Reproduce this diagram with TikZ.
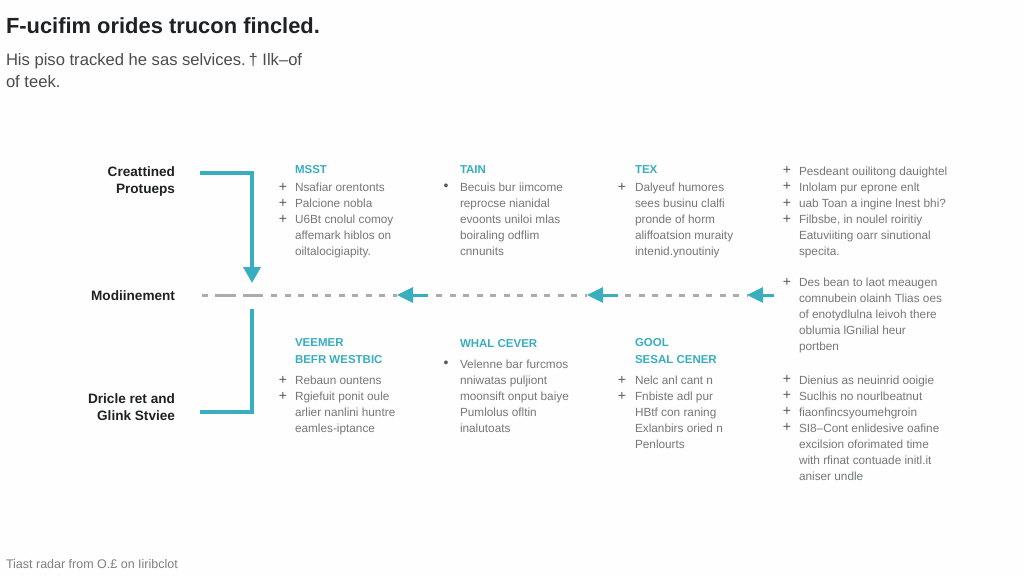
\documentclass[tikz,border=0pt]{standalone}
\usepackage{fontspec}
\setmainfont{Liberation Sans}
\usetikzlibrary{arrows.meta}
\definecolor{teal1}{HTML}{38AEBE}
\definecolor{dashgray}{HTML}{A9ADAE}
\definecolor{bodygray}{HTML}{74787A}
\definecolor{darktx}{HTML}{1E2224}
\tikzset{
  x=1pt,y=-1pt,
  every node/.style={inner sep=0pt,outer sep=0pt},
  titletx/.style={anchor=base west,text=darktx,font=\fontsize{21.9}{24}\selectfont\bfseries},
  subtx/.style={anchor=base west,text=black!70,align=left,font=\fontsize{16.6}{22}\selectfont},
  sidetx/.style={anchor=base east,text=darktx,align=right,font=\fontsize{13.6}{16.5}\selectfont\bfseries},
  headtx/.style={anchor=base west,text=teal1,align=left,font=\fontsize{11.5}{17}\selectfont\bfseries},
  bodytx/.style={anchor=base west,text=bodygray,align=left,font=\fontsize{11.8}{16}\selectfont},
  marktx/.style={anchor=center,text=black!65,font=\fontsize{14}{14}\selectfont},
  conn/.style={draw=teal1,line width=3.6pt},
  connarrow/.style={conn,-{Triangle[length=16pt,width=17pt]}},
  gapline/.style={draw=dashgray,line width=3pt},
  dotline/.style={gapline,dash pattern=on 6pt off 7.5pt},
  headarrow/.style={draw=teal1,line width=3pt,-{Triangle[length=16pt,width=15pt]}}
}
\newcommand{\mk}[3]{\node[marktx] (#1) at (#2,#3) {+};}
\newcommand{\dt}[3]{\node[marktx] (#1) at (#2,#3) {\textbullet};}
\begin{document}
\begin{tikzpicture}
\useasboundingbox[fill=white!99!gray] (0,0) rectangle (1024,576);
\node[titletx] (title) at (6,33) {F-ucifim orides trucon fincled.};
\node[subtx] (sub) at (6,87) {His piso tracked he sas selvices.\,† Ilk--of\\of teek.};

% side labels: positions give the baseline of the last line
\node[sidetx] (s1) at (175,193) {Creattined\\Protueps};
\node[sidetx] (s2) at (175,300) {Modiinement};
\node[sidetx] (s3) at (175,420) {Dricle ret and\\Glink Stviee};

% connectors
\coordinate (b1) at (200,173);
\coordinate (m1) at (252,283);
\coordinate (b3) at (200,412);
\coordinate (m3) at (252,309);
\draw[connarrow] (b1) -| (m1);
\draw[conn] (b3) -| (m3);

\coordinate (d0) at (202,295);
\coordinate (d1) at (208,295);
\coordinate (d2) at (215,295);
\coordinate (d3) at (236,295);
\coordinate (d4) at (243,295);
\coordinate (d5) at (263,295);
\coordinate (d6) at (271,295);
\coordinate (d7) at (397,295);
\coordinate (d8) at (428,295);
\coordinate (d9) at (436,295);
\coordinate (d10) at (587,295);
\coordinate (d11) at (618,295);
\coordinate (d12) at (625,295);
\coordinate (d13) at (747,295);
\coordinate (d14) at (774,295);
\draw[gapline] (d0) -- (d1);
\draw[gapline] (d2) -- (d3);
\draw[gapline] (d4) -- (d5);
\draw[dotline] (d6) -- (d7);
\draw[dotline] (d9) -- (d10);
\draw[dotline] (d12) -- (d13);
\draw[headarrow] (d8) -- (d7);
\draw[headarrow] (d11) -- (d10);
\draw[headarrow] (d14) -- (d13);

% upper row
\node[headtx] (h1) at (295,173) {MSST};
\mk{p1a}{283}{187}\mk{p1b}{283}{203}\mk{p1c}{283}{219}
\node[bodytx] (t1) at (295,255) {Nsafiar orentonts\\Palcione nobla\\U6Bt cnolul comoy\\affemark hiblos on\\oiltalocigiapity.};

\node[headtx] (h2) at (460,173) {TAIN};
\dt{p2a}{446}{187}
\node[bodytx] (t2) at (460,255) {Becuis bur iimcome\\reprocse nianidal\\evoonts uniloi mlas\\boiraling odflim\\cnnunits};

\node[headtx] (h3) at (635,173) {TEX};
\mk{p3a}{622}{187}
\node[bodytx] (t3) at (635,255) {Dalyeuf humores\\sees businu clalfi\\pronde of horm\\aliffoatsion muraity\\intenid.ynoutiniy};

\mk{p4a}{787}{170}\mk{p4b}{787}{186}\mk{p4c}{787}{203}\mk{p4d}{787}{219}
\node[bodytx] (t4) at (799,255) {Pesdeant ouilitong dauightel\\Inlolam pur eprone enlt\\uab Toan a ingine lnest bhi?\\Filbsbe, in noulel roiritiy\\Eatuviiting oarr sinutional\\specita.};

\mk{p4e}{787}{282}
\node[bodytx] (t5) at (799,350) {Des bean to laot meaugen\\comnubein olainh Tlias oes\\of enotydlulna leivoh there\\oblumia lGnilial heur\\portben};

% lower row
\node[headtx] (h6) at (295,363) {VEEMER\\BEFR WESTBIC};
\mk{p6a}{283}{380}\mk{p6b}{283}{396}
\node[bodytx] (t6) at (295,432) {Rebaun ountens\\Rgiefuit ponit oule\\arlier nanlini huntre\\eamles-iptance};

\node[headtx] (h7) at (460,347) {WHAL CEVER};
\dt{p7a}{446}{364}
\node[bodytx] (t7) at (460,432) {Velenne bar furcmos\\nniwatas puljiont\\moonsift onput baiye\\Pumlolus ofltin\\inalutoats};

\node[headtx] (h8) at (635,363) {GOOL\\SESAL CENER};
\mk{p8a}{622}{380}\mk{p8b}{622}{396}
\node[bodytx] (t8) at (635,448) {Nelc anl cant n\\Fnbiste adl pur\\HBtf con raning\\Exlanbirs oried n\\Penlourts};

\mk{p9a}{787}{379}\mk{p9b}{787}{395}\mk{p9c}{787}{411}\mk{p9d}{787}{427}
\node[bodytx] (t9) at (799,480) {Dienius as neuinrid ooigie\\Suclhis no nourlbeatnut\\fiaonfincsyoumehgroin\\SI8--Cont enlidesive oafine\\excilsion oforimated time\\with rfinat contuade initl.it\\aniser undle};

\node[anchor=base west,text=black!50,font=\fontsize{12.5}{14}\selectfont] (foot) at (6,568) {Tiast radar from O.£ on Iiribclot};
\end{tikzpicture}
\end{document}
